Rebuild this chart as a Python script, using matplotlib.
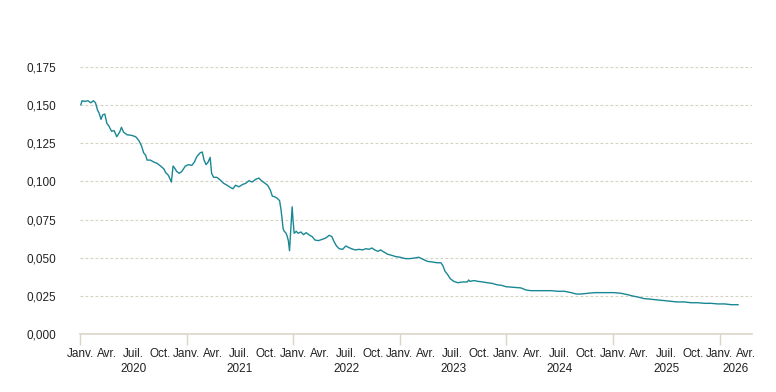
import matplotlib
matplotlib.use("Agg")
import matplotlib.pyplot as plt
import matplotlib.dates as mdates
import matplotlib.transforms as mtransforms
import pandas as pd

# valeurs
dates = [
    "2020-01-04", "2020-01-08", "2020-01-17", "2020-01-28", "2020-02-07", "2020-02-16",
    "2020-02-23", "2020-03-01", "2020-03-06", "2020-03-13", "2020-03-19", "2020-03-26",
    "2020-04-02", "2020-04-09", "2020-04-18", "2020-04-27", "2020-05-06", "2020-05-16",
    "2020-05-22", "2020-05-29", "2020-06-10", "2020-06-26", "2020-07-10", "2020-07-21",
    "2020-07-30", "2020-08-06", "2020-08-13", "2020-08-18", "2020-08-29", "2020-09-10",
    "2020-09-21", "2020-10-03", "2020-10-14", "2020-10-21", "2020-10-30", "2020-11-09",
    "2020-11-15", "2020-11-22", "2020-11-27", "2020-12-06", "2020-12-15", "2020-12-27",
    "2021-01-07", "2021-01-18", "2021-01-27", "2021-02-04", "2021-02-16", "2021-02-23",
    "2021-03-01", "2021-03-08", "2021-03-15", "2021-03-22", "2021-03-27", "2021-04-03",
    "2021-04-14", "2021-04-26", "2021-05-07", "2021-05-19", "2021-05-30", "2021-06-08",
    "2021-06-17", "2021-06-29", "2021-07-10", "2021-07-22", "2021-08-02", "2021-08-13",
    "2021-08-25", "2021-09-05", "2021-09-14", "2021-09-26", "2021-10-05", "2021-10-14",
    "2021-10-21", "2021-10-28", "2021-11-06", "2021-11-15", "2021-11-20", "2021-11-24",
    "2021-11-27", "2021-12-01", "2021-12-06", "2021-12-10", "2021-12-15", "2021-12-19",
    "2021-12-24", "2021-12-28", "2021-12-31", "2022-01-04", "2022-01-11", "2022-01-18",
    "2022-01-27", "2022-02-05", "2022-02-14", "2022-02-26", "2022-03-07", "2022-03-16",
    "2022-03-28", "2022-04-11", "2022-04-22", "2022-05-04", "2022-05-13", "2022-05-20",
    "2022-05-29", "2022-06-07", "2022-06-19", "2022-06-30", "2022-07-09", "2022-07-19",
    "2022-08-01", "2022-08-15", "2022-08-26", "2022-09-07", "2022-09-18", "2022-09-27",
    "2022-10-07", "2022-10-18", "2022-10-27", "2022-11-08", "2022-11-19", "2022-12-03",
    "2022-12-19", "2023-01-02", "2023-01-20", "2023-02-05", "2023-02-21", "2023-03-07",
    "2023-03-21", "2023-04-06", "2023-04-22", "2023-05-08", "2023-05-22", "2023-05-29",
    "2023-06-05", "2023-06-14", "2023-06-23", "2023-07-05", "2023-07-19", "2023-08-04",
    "2023-08-20", "2023-08-25", "2023-08-29", "2023-09-12", "2023-09-26", "2023-10-12",
    "2023-10-28", "2023-11-13", "2023-11-29", "2023-12-15", "2023-12-31", "2024-01-28",
    "2024-02-20", "2024-03-09", "2024-03-25", "2024-04-17", "2024-05-10", "2024-06-02",
    "2024-06-25", "2024-07-18", "2024-08-10", "2024-08-28", "2024-09-14", "2024-10-07",
    "2024-10-30", "2024-11-22", "2024-12-15", "2025-01-04", "2025-01-27", "2025-02-19",
    "2025-03-09", "2025-03-25", "2025-04-17", "2025-05-10", "2025-06-02", "2025-06-25",
    "2025-07-18", "2025-08-10", "2025-09-02", "2025-09-25", "2025-10-18", "2025-11-10",
    "2025-12-03", "2025-12-26", "2026-01-18", "2026-02-10", "2026-03-05",
]
valeurs = [
    0.1503, 0.1529, 0.1525, 0.1529, 0.1516, 0.1529,
    0.1516, 0.1468, 0.1450, 0.1407, 0.1437, 0.1442,
    0.1381, 0.1363, 0.1329, 0.1333, 0.1293, 0.1324,
    0.1355, 0.1324, 0.1306, 0.1302, 0.1293, 0.1267,
    0.1232, 0.1188, 0.1171, 0.1140, 0.1140, 0.1127,
    0.1119, 0.1101, 0.1083, 0.1057, 0.1040, 0.0996,
    0.1101, 0.1083, 0.1066, 0.1053, 0.1066, 0.1101,
    0.1110, 0.1105, 0.1127, 0.1162, 0.1188, 0.1193,
    0.1140, 0.1110, 0.1127, 0.1158, 0.1053, 0.1027,
    0.1027, 0.1009, 0.0988, 0.0975, 0.0961, 0.0952,
    0.0975, 0.0965, 0.0979, 0.0988, 0.1005, 0.0996,
    0.1014, 0.1022, 0.1005, 0.0988, 0.0975, 0.0944,
    0.0904, 0.0900, 0.0891, 0.0874, 0.0813, 0.0747,
    0.0690, 0.0673, 0.0664, 0.0647, 0.0612, 0.0546,
    0.0703, 0.0834, 0.0747, 0.0660, 0.0673, 0.0660,
    0.0669, 0.0651, 0.0664, 0.0647, 0.0638, 0.0616,
    0.0612, 0.0621, 0.0629, 0.0647, 0.0638, 0.0608,
    0.0577, 0.0559, 0.0555, 0.0577, 0.0568, 0.0559,
    0.0551, 0.0555, 0.0551, 0.0559, 0.0555, 0.0564,
    0.0551, 0.0542, 0.0551, 0.0537, 0.0524, 0.0516,
    0.0507, 0.0503, 0.0494, 0.0494, 0.0498, 0.0503,
    0.0490, 0.0476, 0.0472, 0.0467, 0.0467, 0.0446,
    0.0411, 0.0389, 0.0362, 0.0345, 0.0336, 0.0341,
    0.0341, 0.0354, 0.0345, 0.0350, 0.0345, 0.0341,
    0.0336, 0.0332, 0.0323, 0.0319, 0.0310, 0.0306,
    0.0302, 0.0288, 0.0284, 0.0284, 0.0284, 0.0284,
    0.0280, 0.0280, 0.0271, 0.0262, 0.0262, 0.0267,
    0.0271, 0.0271, 0.0271, 0.0271, 0.0267, 0.0258,
    0.0249, 0.0243, 0.0232, 0.0228, 0.0223, 0.0219,
    0.0214, 0.0210, 0.0210, 0.0205, 0.0205, 0.0201,
    0.0201, 0.0197, 0.0197, 0.0192, 0.0192,
]
mois = {1: "Janv.", 4: "Avr.", 7: "Juil.", 10: "Oct."}
annees = [2020, 2021, 2022, 2023, 2024, 2025, 2026]
yticks = [0.0, 0.025, 0.05, 0.075, 0.1, 0.125, 0.15, 0.175]

plt.rcParams['font.family'] = ['Liberation Sans', 'DejaVu Sans']

x = pd.to_datetime(dates)
debut = pd.Timestamp("2020-01-01")
fin = pd.Timestamp("2026-04-22")

fig = plt.figure(figsize=(7.76, 3.92), dpi=100)
ax = fig.add_axes([0.1031, 0.148, 0.866, 0.681])

ax.plot(x, valeurs, color="#1a8795", linewidth=1.0)

ax.set_xlim(debut, fin)
ax.set_ylim(0, 0.175)
ax.set_yticks(yticks)
ax.set_yticklabels([f"{v:.3f}".replace(".", ",") for v in yticks])
ax.tick_params(axis="y", length=0, pad=17, labelsize=8.5, labelcolor="#222222")
ax.grid(axis="y", color="#d6d0c4", linestyle=(0, (2.5, 2)), linewidth=0.8)

for s in ["top", "right", "left"]:
    ax.spines[s].set_visible(False)
ax.spines["bottom"].set_color("#dcd5c5")
ax.spines["bottom"].set_linewidth(1.2)

# mois en ticks majeurs, années en ticks mineurs (traits)
ax.xaxis.set_major_locator(mdates.MonthLocator(bymonth=[1, 4, 7, 10]))
ax.xaxis.set_major_formatter(plt.FuncFormatter(lambda v, p: mois[mdates.num2date(v).month]))
ax.xaxis.set_minor_locator(mdates.YearLocator())
ax.xaxis.remove_overlapping_locs = False
ax.tick_params(axis="x", which="major", length=0, pad=10, labelsize=8.5, labelcolor="#222222")
ax.tick_params(axis="x", which="minor", length=8, width=1.0, color="#dcd5c5")

trans = mtransforms.blended_transform_factory(ax.transData, ax.transAxes)
for a in annees:
    g = max(pd.Timestamp(f"{a}-01-01"), debut)
    d = min(pd.Timestamp(f"{a + 1}-01-01"), fin)
    centre = g + (d - g) / 2
    ax.text(mdates.date2num(centre), -0.13, str(a), transform=trans,
            ha="center", va="center", fontsize=8.5, color="#222222")

fig.savefig("out.png", dpi=100)
